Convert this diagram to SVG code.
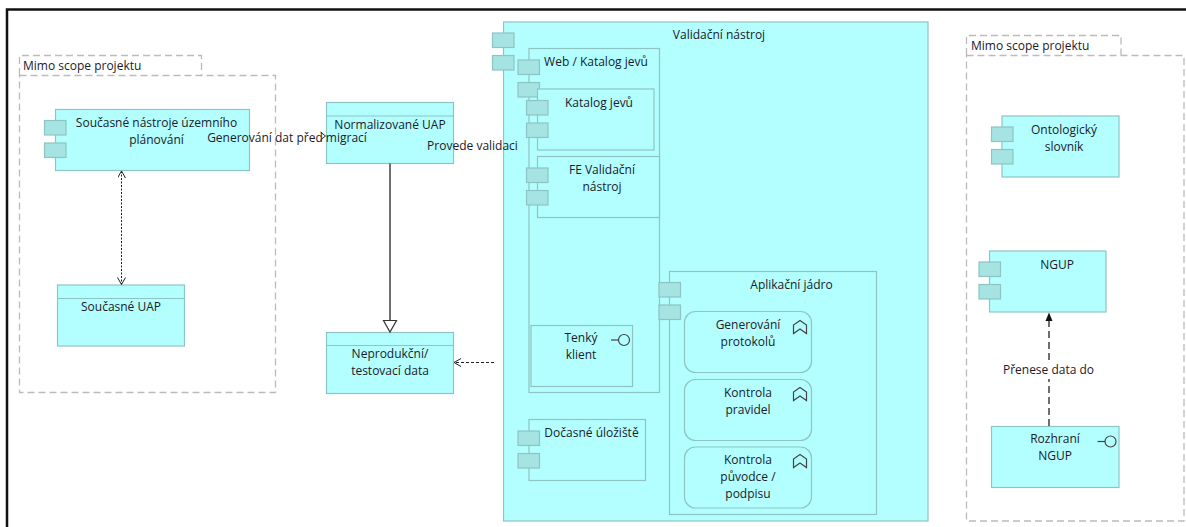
<svg xmlns="http://www.w3.org/2000/svg" width="1186" height="527" viewBox="0 0 1186 527">
<style>
text{font-family:"Open Sans","Noto Sans","Liberation Sans",sans-serif;font-size:12px;fill:#1a1a2a;text-anchor:middle}
.l{text-anchor:start}
.b{fill:#b3ffff;stroke:#8fc4c4;stroke-width:1.2}
.t{fill:#a6e3e3;stroke:#8fc4c4;stroke-width:1.2}
.g{fill:#fff;stroke:#bbb;stroke-width:1.3;stroke-dasharray:7 4}
.c{fill:none;stroke:#222}
.i{fill:none;stroke:#444;stroke-width:1.2}
</style>
<defs>
<g id="tabs"><rect class="t" x="0" y="0" width="21.5" height="14.5"/><rect class="t" x="0" y="22.5" width="21.5" height="14.5"/></g>
<g id="iface"><circle class="i" cx="13" cy="0" r="5.5"/><path class="i" d="M0 0H7.5"/></g>
<path id="fn" class="i" d="M-6.500 5.500V-3L0-7.500L6.500-3V5.500L0 1Z"/>
<marker id="open" markerWidth="10" markerHeight="10" refX="8" refY="4" orient="auto-start-reverse" markerUnits="userSpaceOnUse"><path d="M1 0L8 4L1 8" fill="none" stroke="#222"/></marker>
</defs>
<rect width="1186" height="527" fill="#fff"/>
<path d="M7 527V9.500H1186" fill="none" stroke="#111" stroke-width="2.500"/>

<g id="scope-left"><path class="g" d="M19.500 75V55.500H201.500V75"/><rect class="g" x="19.500" y="75.500" width="256" height="317"/><text class="l" x="23" y="70">Mimo scope projektu</text></g>
<g id="scope-right"><path class="g" d="M966.500 55V35.500H1121V55"/><rect class="g" x="966.500" y="55.500" width="217.500" height="465.500"/><text class="l" x="971" y="50">Mimo scope projektu</text></g>

<g id="stavajici-nastroje"><rect class="b" x="55.500" y="109.500" width="194" height="61"/><use href="#tabs" x="44.500" y="120.500"/><text x="156.500" y="127">Současné nástroje územního</text><text x="156.500" y="144">plánování</text></g>
<g id="normalizovane-uap"><rect class="b" x="326.500" y="102.500" width="127" height="61"/><path class="b" d="M326.500 116H453.500"/><text x="390" y="129">Normalizované UAP</text></g>
<g id="soucasne-uap"><rect class="b" x="57.500" y="285" width="127" height="61"/><path class="b" d="M57.500 298.500H184.500"/><text x="121" y="311">Současné UAP</text></g>
<g id="neprodukcni"><rect class="b" x="326.500" y="332.500" width="127" height="61"/><path class="b" d="M326.500 345.500H453.500"/><text x="390" y="358">Neprodukční/</text><text x="390" y="375">testovací data</text></g>

<g id="validacni-nastroj"><rect class="b" x="503.500" y="22" width="424.500" height="499"/><use href="#tabs" x="492.500" y="33"/><text x="719" y="39">Validační nástroj</text></g>
<g id="web-katalog"><rect class="b" x="529" y="48.500" width="130.500" height="344"/><use href="#tabs" x="518" y="60"/><text x="596" y="66">Web / Katalog jevů</text></g>
<g id="katalog-jevu"><rect class="b" x="537.500" y="89" width="116.500" height="61"/><use href="#tabs" x="526.500" y="100.500"/><text x="599" y="107">Katalog jevů</text></g>
<g id="fe-validacni"><rect class="b" x="537.500" y="156.500" width="122" height="61"/><use href="#tabs" x="526.500" y="168"/><text x="602" y="174">FE Validační</text><text x="602" y="191">nástroj</text></g>
<g id="tenky-klient"><rect class="b" x="531" y="325.500" width="101.500" height="61"/><use href="#iface" x="611" y="340"/><text x="581" y="342">Tenký</text><text x="581" y="359">klient</text></g>
<g id="aplikacni-jadro"><rect class="b" x="669.500" y="271.500" width="207" height="243"/><use href="#tabs" x="659" y="282.500"/><text x="791.500" y="289">Aplikační jádro</text></g>
<g id="generovani-protokolu"><rect class="b" x="684.500" y="311.500" width="127" height="61" rx="11"/><use href="#fn" x="800" y="328"/><text x="748" y="329">Generování</text><text x="748" y="346">protokolů</text></g>
<g id="kontrola-pravidel"><rect class="b" x="684.500" y="379.500" width="127" height="61" rx="11"/><use href="#fn" x="800" y="395"/><text x="748" y="397">Kontrola</text><text x="748" y="414">pravidel</text></g>
<g id="kontrola-puvodce"><rect class="b" x="684.500" y="447" width="127" height="61" rx="11"/><use href="#fn" x="800" y="462"/><text x="748" y="464">Kontrola</text><text x="748" y="481">původce /</text><text x="748" y="498">podpisu</text></g>
<g id="docasne-uloziste"><rect class="b" x="529" y="419.500" width="116.500" height="61"/><use href="#tabs" x="518" y="431"/><text x="591.500" y="437">Dočasné úložiště</text></g>

<g id="ontologicky-slovnik"><rect class="b" x="1002" y="116" width="117" height="61"/><use href="#tabs" x="991.500" y="127"/><text x="1064" y="134">Ontologický</text><text x="1064" y="151">slovník</text></g>
<g id="ngup"><rect class="b" x="989.500" y="251" width="116.500" height="61"/><use href="#tabs" x="979" y="262"/><text x="1057" y="269">NGUP</text></g>
<g id="rozhrani-ngup"><rect class="b" x="991.500" y="426.500" width="127.500" height="61"/><use href="#iface" x="1097.500" y="441.500"/><text x="1055" y="443">Rozhraní</text><text x="1055" y="460">NGUP</text></g>

<g id="connectors">
<path class="c" d="M121.500 171V284.500" stroke-dasharray="2 1.500" marker-start="url(#open)" marker-end="url(#open)"/>
<path class="c" d="M320.500 132L325.500 136L320.500 140"/>
<path class="c" d="M390 163.500V320.500" stroke-width="1.300"/>
<path d="M383.500 320.500H396.500L390 332Z" fill="#fff" stroke="#333" stroke-width="1.200"/>
<path class="c" d="M494 362.500H454" stroke-dasharray="3 2" marker-end="url(#open)"/>
<path class="c" d="M1049 426V320" stroke-width="1.300" stroke-dasharray="7 4"/>
<path d="M1049 312.500L1052.500 321H1045.500Z" fill="#111"/>
<rect x="1003" y="360" width="92" height="19" fill="#fff"/>
<text x="248" y="0" style="display:none"/>
<text x="1048.500" y="374">Přenese data do</text>
<text x="287" y="142">Generování dat před migrací</text>
<text x="472.500" y="150">Provede validaci</text>
</g>
</svg>
